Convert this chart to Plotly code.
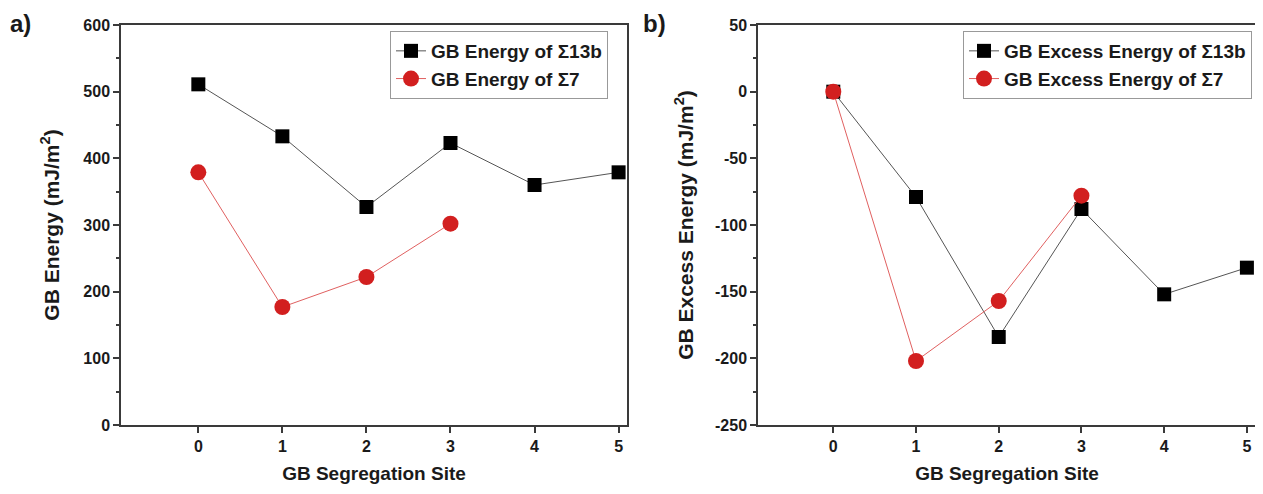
import plotly.graph_objects as go

sites_13b = [0, 1, 2, 3, 4, 5]
sites_7 = [0, 1, 2, 3]
energy_13b = [511, 433, 327, 423, 360, 379]
energy_7 = [379, 177, 222, 302]
excess_13b = [0, -79, -184, -88, -152, -132]
excess_7 = [0, -202, -157, -78]

x_ticks = [0, 1, 2, 3, 4, 5]
y1_ticks = [0, 100, 200, 300, 400, 500, 600]
y2_ticks = [-250, -200, -150, -100, -50, 0, 50]

# page body has an 8px margin, so the figure is drawn 8px smaller
OFF = 8
W, H = 1263 - OFF, 494 - OFF
PT, PB = 25 - OFF, 425 - OFF          # plot top / bottom in figure px
PH = PB - PT
FONT = "Liberation Sans, Arial, sans-serif"
BLACK_LINE = "#555555"
RED = "#d21f1f"
RED_LINE = "#e06060"
TXT = "#1a1a1a"

fig = go.Figure()

def add_pair(x1, y1, n1, x2, y2, n2, xa, ya, leg):
    fig.add_trace(go.Scatter(x=x1, y=y1, name=n1, mode="lines+markers",
                             line=dict(color=BLACK_LINE, width=1),
                             marker=dict(symbol="square", size=14, color="black"),
                             xaxis=xa, yaxis=ya, legend=leg))
    fig.add_trace(go.Scatter(x=x2, y=y2, name=n2, mode="lines+markers",
                             line=dict(color=RED_LINE, width=1),
                             marker=dict(symbol="circle", size=16, color=RED),
                             xaxis=xa, yaxis=ya, legend=leg))

add_pair(sites_13b, energy_13b, "<b>GB Energy of Σ13b</b>",
         sites_7, energy_7, "<b>GB Energy of Σ7</b>", "x", "y", "legend")
add_pair(sites_13b, excess_13b, "<b>GB Excess Energy of Σ13b</b>",
         sites_7, excess_7, "<b>GB Excess Energy of Σ7</b>", "x2", "y2", "legend2")

axis_common = dict(showline=True, linecolor="#3a3a3a", linewidth=1.5, mirror=True,
                   ticks="outside", ticklen=6, tickwidth=1.5, tickcolor="#3a3a3a",
                   showgrid=False, zeroline=False, automargin=False,
                   tickfont=dict(family=FONT, size=16, color=TXT))

xa = dict(axis_common, tickvals=x_ticks,
          ticktext=[f"<b>{v}</b>" for v in x_ticks],
          title=dict(text="<b>GB Segregation Site</b>",
                     font=dict(family=FONT, size=19, color=TXT), standoff=13))

def legend_at(xr):
    return dict(x=xr / W, xanchor="right", xref="paper", y=1 - 6 / PH, yanchor="top",
                bordercolor="#999999", borderwidth=1, bgcolor="white",
                font=dict(family=FONT, size=19, color=TXT),
                tracegroupgap=0)

fig.update_layout(
    width=W, height=H,
    margin=dict(l=0, r=0, t=PT, b=H - PB),
    plot_bgcolor="white", paper_bgcolor="white",
    showlegend=True,
    xaxis=dict(xa, domain=[(121 - OFF) / W, (627 - OFF) / W], anchor="y", range=[-0.92, 5.1]),
    xaxis2=dict(xa, domain=[(758 - OFF) / W, (1256 - OFF) / W], anchor="y2", range=[-0.91, 5.11]),
    yaxis=dict(axis_common, domain=[0, 1], anchor="x", range=[0, 600],
               tickvals=y1_ticks, ticktext=[f"<b>{v}</b>" for v in y1_ticks],
               minor=dict(ticks="outside", ticklen=3, tickcolor="#3a3a3a", dtick=50, tick0=0),
               title=dict(text="<b>GB Energy (mJ/m<sup>2</sup>)</b>",
                          font=dict(family=FONT, size=21, color=TXT), standoff=18)),
    yaxis2=dict(axis_common, domain=[0, 1], anchor="x2", range=[-250, 50],
                tickvals=y2_ticks, ticktext=[f"<b>{v}</b>" for v in y2_ticks],
                minor=dict(ticks="outside", ticklen=3, tickcolor="#3a3a3a", dtick=25, tick0=0),
                title=dict(text="<b>GB Excess Energy (mJ/m<sup>2</sup>)</b>",
                           font=dict(family=FONT, size=21, color=TXT), standoff=16)),
    legend=legend_at(608 - OFF),
    legend2=legend_at(1252 - OFF),
    annotations=[
        dict(text="<b>a)</b>", x=0 / W, y=1 + PT / PH, xref="paper", yref="paper",
             xanchor="left", yanchor="top", showarrow=False,
             font=dict(family=FONT, size=24, color=TXT)),
        dict(text="<b>b)</b>", x=(641 - OFF) / W, y=1 + PT / PH, xref="paper", yref="paper",
             xanchor="left", yanchor="top", showarrow=False,
             font=dict(family=FONT, size=24, color=TXT)),
    ],
)

fig.write_html("out.html")
